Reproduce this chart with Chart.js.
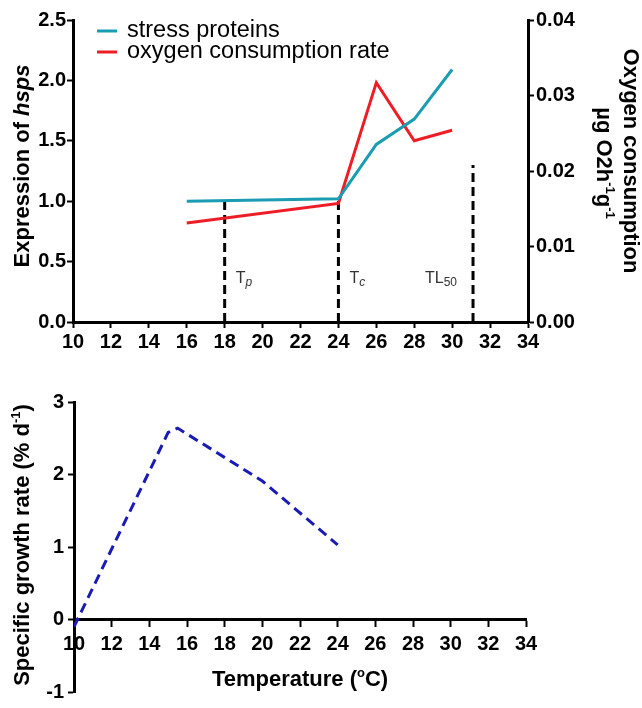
<!DOCTYPE html>
<html><head><meta charset="utf-8">
<script src="https://cdn.jsdelivr.net/npm/chart.js@4.4.1/dist/chart.umd.min.js"></script>
<style>
html,body{margin:0;padding:0;background:#fff;overflow:hidden;}
#top{position:absolute;left:0;top:0;width:642px;height:350px;}
#bot{position:absolute;left:0;top:360px;width:642px;height:348px;}
</style></head><body>
<div id="top"><canvas id="c1"></canvas></div>
<div id="bot"><canvas id="c2"></canvas></div>
<script>
// ---- data ----
const temperatureTicks = [10,12,14,16,18,20,22,24,26,28,30,32,34];
const hspTemps  = [16, 24, 26, 28, 30];
const hspValues = [1.00, 1.02, 1.47, 1.68, 2.09];
const o2Temps   = [16, 24, 26, 28, 30];
const o2Values  = [0.0131, 0.0157, 0.0317, 0.0240, 0.0254];
const markerTemps  = [18, 24, 31.1];
const markerTops   = [1.00, 1.02, 1.30];
const markerNames  = ['T', 'T', 'TL'];
const markerSubs   = ['p', 'c', '50'];
const markerSubItalic = [true, true, false];
const hspTicks = [0, 0.5, 1.0, 1.5, 2.0, 2.5];
const o2Ticks  = [0, 0.01, 0.02, 0.03, 0.04];
const growthTemps  = [10, 15, 15.5, 20, 24];
const growthValues = [-0.1, 2.58, 2.64, 1.91, 1.03];
const growthTicks  = [-1, 0, 1, 2, 3];

const FONT = '"Liberation Sans", Arial, Helvetica, sans-serif';
const TEAL = '#1a9cb2', RED = '#ee1c24', BLUE = '#1a1ab4';
Chart.defaults.color = '#000';
Chart.defaults.font.family = FONT;

function richWidth(ctx, segs){ let w=0; for(const s of segs){ ctx.font=s.font; w+=ctx.measureText(s.text).width; } return w; }
function drawRich(ctx, segs, x, y, rot, align){
  ctx.save(); ctx.translate(x,y); ctx.rotate(rot||0);
  const w = richWidth(ctx, segs);
  let cx = align==='left' ? 0 : (align==='right' ? -w : -w/2);
  ctx.textAlign='left'; ctx.textBaseline='alphabetic';
  for(const s of segs){ ctx.font=s.font; ctx.fillStyle=s.color||'#000'; ctx.fillText(s.text, cx, s.dy||0); cx += ctx.measureText(s.text).width; }
  ctx.restore();
}
const B22 = 'bold 22px '+FONT, BI22 = 'italic bold 22px '+FONT, B13 = 'bold 13px '+FONT;

function axisCommon(){
  return {
    grid:{display:true, drawOnChartArea:false, drawTicks:true, tickLength:6, tickColor:'#000', tickWidth:2},
    border:{display:true, color:'#000', width:3}
  };
}

const topPlugin = {
  id:'topText',
  afterDraw(chart){
    const ctx = chart.ctx, xs = chart.scales.x, ys = chart.scales.y;
    // left title
    drawRich(ctx, [{text:'Expression of ', font:B22},{text:'hsps', font:BI22}], 29, 166, -Math.PI/2, 'center');
    // right title
    drawRich(ctx, [{text:'Oxygen consumption', font:B22}], 624, 161, Math.PI/2, 'center');
    drawRich(ctx, [{text:'µg O2h', font:B22},{text:'-1', font:B13, dy:-9},{text:'g', font:B22},{text:'-1', font:B13, dy:-9}], 597, 163, Math.PI/2, 'center');
    // legend
    const rows = [31, 52];
    [0,1].forEach(i=>{
      const ds = chart.data.datasets[i];
      ctx.save();
      ctx.strokeStyle = ds.borderColor; ctx.lineWidth = 3;
      ctx.beginPath(); ctx.moveTo(97, rows[i]); ctx.lineTo(117, rows[i]); ctx.stroke();
      ctx.fillStyle='#000'; ctx.font='23.5px '+FONT; ctx.textBaseline='middle'; ctx.textAlign='left';
      ctx.fillText(ds.label, 127, rows[i]);
      ctx.restore();
    });
    // marker labels
    markerTemps.forEach((t,i)=>{
      const px = xs.getPixelForValue(t), py = ys.getPixelForValue(0.32);
      const segs = [{text:markerNames[i], font:'16px '+FONT, color:'#333'},
                    {text:markerSubs[i], font:(markerSubItalic[i]?'italic ':'')+'12px '+FONT, color:'#333', dy:3}];
      if(i<2) drawRich(ctx, segs, px+11, py, 0, 'left');
      else drawRich(ctx, segs, px-16, py, 0, 'right');
    });
  }
};

const c1 = new Chart(document.getElementById('c1'), {
  type:'line',
  data:{datasets:[
    {label:'stress proteins', data:hspTemps.map((t,i)=>({x:t,y:hspValues[i]})), yAxisID:'y', borderColor:TEAL, borderWidth:3, pointRadius:0, tension:0, fill:false},
    {label:'oxygen consumption rate', data:o2Temps.map((t,i)=>({x:t,y:o2Values[i]})), yAxisID:'y2', borderColor:RED, borderWidth:3, pointRadius:0, tension:0, fill:false},
    ...markerTemps.map((t,i)=>({label:'marker '+i, data:[{x:t,y:0},{x:t,y:markerTops[i]}], yAxisID:'y', borderColor:'#000', borderWidth:3, borderDash:[9,5], pointRadius:0, fill:false}))
  ]},
  options:{
    responsive:true, maintainAspectRatio:false, animation:false, devicePixelRatio:1,
    layout:{padding:{top:20,left:0,right:0,bottom:0}},
    plugins:{legend:{display:false}, tooltip:{enabled:false}},
    scales:{
      x:{type:'linear', min:10, max:34, position:'bottom', ...axisCommon(),
         afterBuildTicks:s=>{ s.ticks = temperatureTicks.map(v=>({value:v})); },
         ticks:{font:{size:20, weight:'bold'}, color:'#000', padding:2, maxRotation:0, autoSkip:false},
         afterFit:s=>{ s.height = 28; }},
      y:{type:'linear', position:'left', min:0, max:2.5, ...axisCommon(),
         afterBuildTicks:s=>{ s.ticks = hspTicks.map(v=>({value:v})); },
         ticks:{font:{size:20, weight:'bold'}, color:'#000', padding:1, callback:v=>Number(v).toFixed(1)},
         afterFit:s=>{ s.width = 73; }},
      y2:{type:'linear', position:'right', min:0, max:0.04, ...axisCommon(),
         afterBuildTicks:s=>{ s.ticks = o2Ticks.map(v=>({value:v})); },
         ticks:{font:{size:20, weight:'bold'}, color:'#000', padding:2, callback:v=>Number(v).toFixed(2)},
         afterFit:s=>{ s.width = 114; }}
    }
  },
  plugins:[topPlugin]
});

const botPlugin = {
  id:'botText',
  afterDraw(chart){
    const ctx = chart.ctx;
    drawRich(ctx, [{text:'Specific growth rate (% d', font:B22},{text:'-1', font:B13, dy:-9},{text:')', font:B22}], 29, 185, -Math.PI/2, 'center');
    drawRich(ctx, [{text:'Temperature (', font:B22},{text:'o', font:B13, dy:-9},{text:'C)', font:B22}], 300, 326, 0, 'center');
  }
};

const c2 = new Chart(document.getElementById('c2'), {
  type:'line',
  data:{datasets:[
    {label:'specific growth rate', data:growthTemps.map((t,i)=>({x:t,y:growthValues[i]})), borderColor:BLUE, borderWidth:3, borderDash:[10,6], pointRadius:0, tension:0, fill:false}
  ]},
  options:{
    responsive:true, maintainAspectRatio:false, animation:false, devicePixelRatio:1,
    layout:{padding:{top:42,left:0,right:116,bottom:10}},
    plugins:{legend:{display:false}, tooltip:{enabled:false}},
    scales:{
      x:{type:'linear', min:10, max:34, position:{y:0}, ...axisCommon(),
         afterBuildTicks:s=>{ s.ticks = temperatureTicks.map(v=>({value:v})); },
         ticks:{font:{size:20, weight:'bold'}, color:'#000', padding:7, maxRotation:0, autoSkip:false}},
      y:{type:'linear', position:'left', min:-1, max:3, ...axisCommon(),
         afterBuildTicks:s=>{ s.ticks = growthTicks.map(v=>({value:v})); },
         ticks:{font:{size:20, weight:'bold'}, color:'#000', padding:4},
         afterFit:s=>{ s.width = 74; }}
    }
  },
  plugins:[botPlugin]
});
</script>
</body></html>
